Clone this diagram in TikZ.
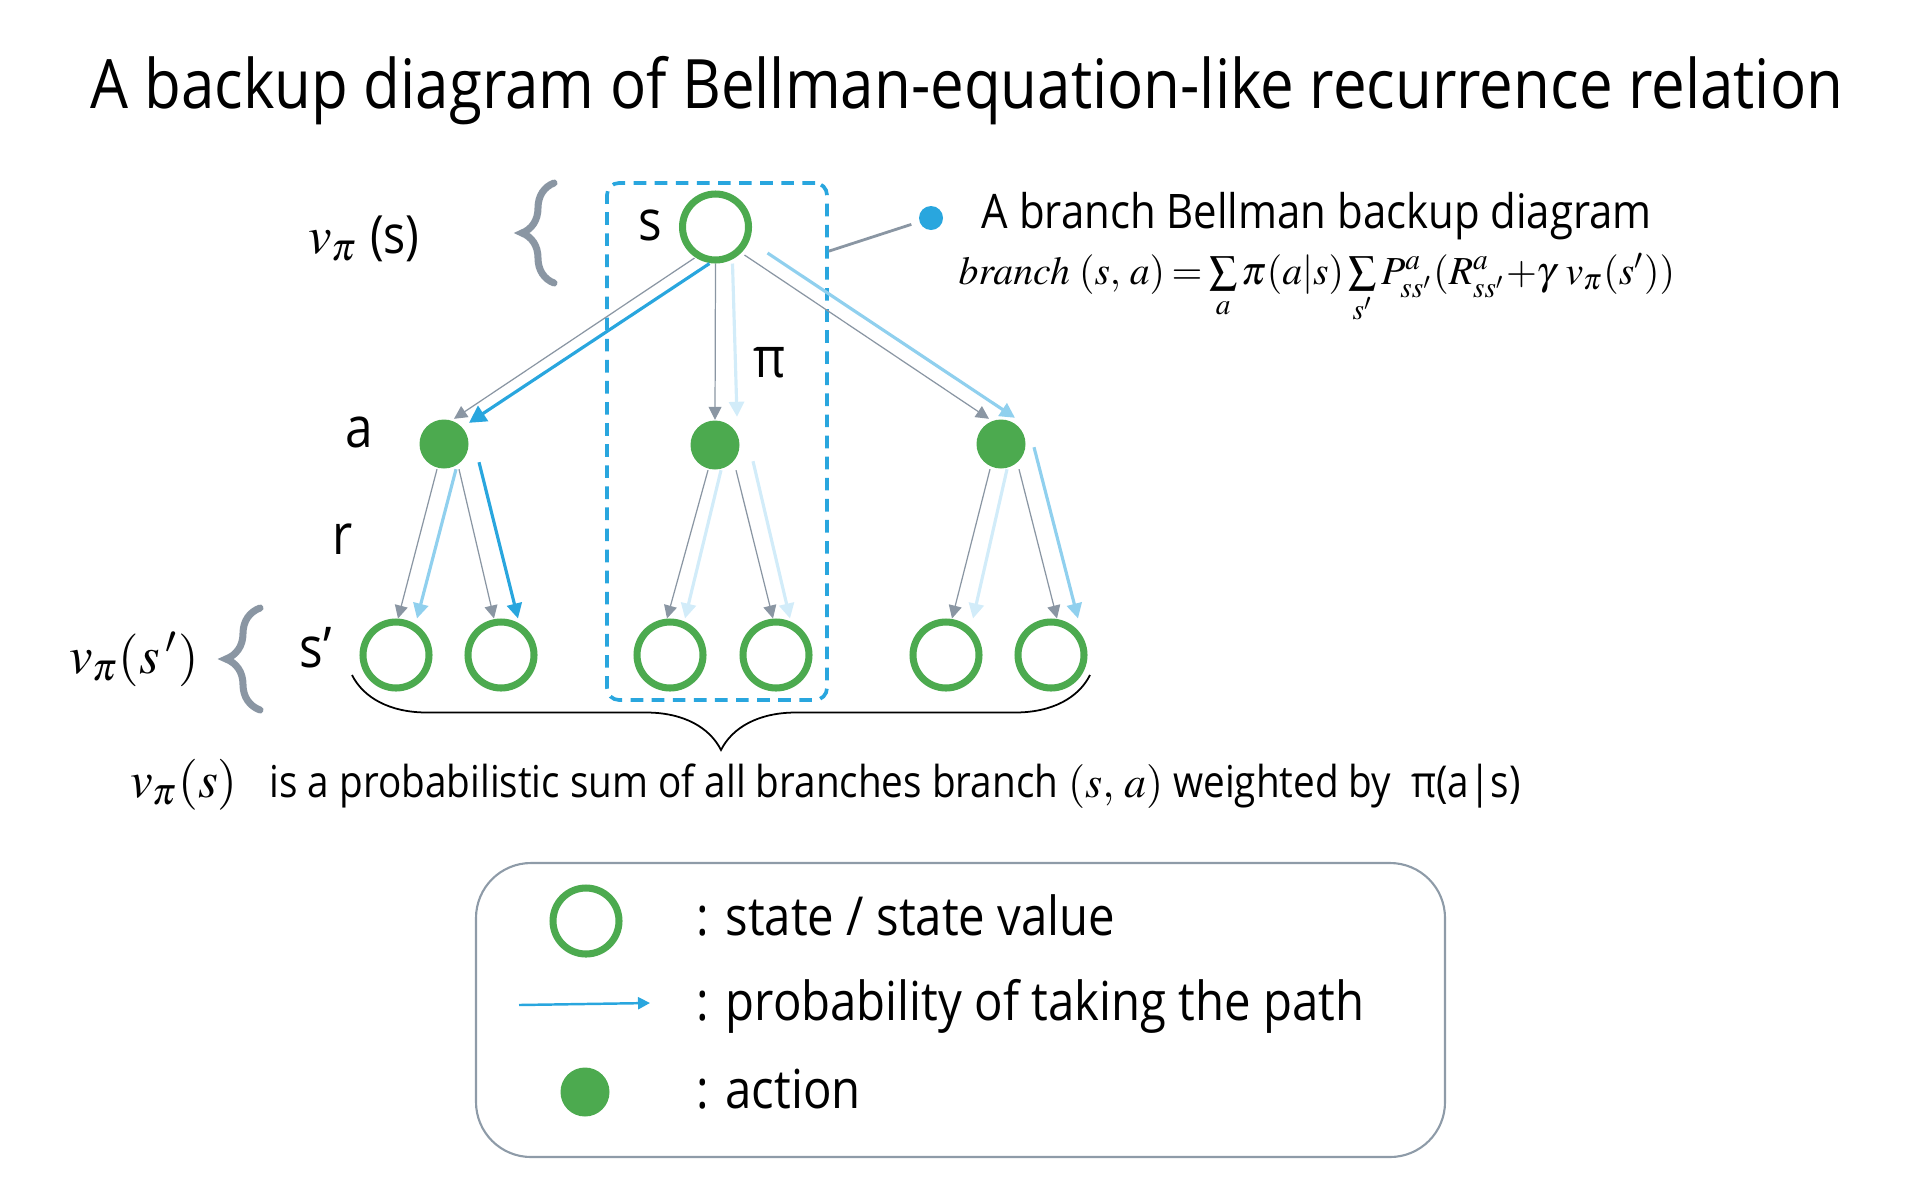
\documentclass[tikz,border=0pt]{standalone}
\usepackage{mathptmx}
\usepackage[no-math]{fontspec}
\setmainfont{Open Sans}[FakeStretch=0.88]
\usetikzlibrary{arrows.meta,decorations.pathreplacing}
\definecolor{leaf}{HTML}{4CAA4F}
\definecolor{sky}{HTML}{29A6DE}
\definecolor{skylight}{HTML}{90D0EE}
\definecolor{skypale}{HTML}{D2ECF9}
\definecolor{slate}{HTML}{8A96A3}
\definecolor{frame}{HTML}{8E9BA8}

\begin{document}
\begin{tikzpicture}[state/.style={circle,draw=leaf,line width=2pt,minimum size=6.6mm,inner sep=0pt}, act/.style={circle,fill=leaf,minimum size=4.9mm,inner sep=0pt}, lbl/.style={anchor=base,font=\fontsize{16}{19}\selectfont}, garr/.style={-{Triangle[length=1.3mm,width=1.3mm]},draw=slate,line width=0.35pt}, parr/.style={-{Triangle[length=1.5mm,width=1.5mm]},line width=0.9pt}, brc/.style={decorate,decoration={brace,amplitude=#1},draw=slate,line width=2pt,line cap=round}, branchbox/.style={draw=sky,line width=1.05pt,dash pattern=on 3.6pt off 2.4pt,rounded corners=1.2mm}]
\useasboundingbox (0,0) rectangle (19.2,-11.89);
\node[anchor=base,font=\fontsize{19.4}{23}\selectfont] (title) at (9.67,-1.08) {A backup diagram of Bellman-equation-like recurrence relation};
% tree
\node[branchbox,minimum width=2.2cm,minimum height=5.17cm] (branch) at (7.17,-4.415) {};
\node[state] (s) at (7.155,-2.27) {};
\node[act] (a1) at (4.44,-4.44) {};
\node[act] (a2) at (7.15,-4.45) {};
\node[act] (a3) at (10.01,-4.44) {};
\node[state] (c1) at (3.96,-6.55) {};
\node[state] (c2) at (5.01,-6.55) {};
\node[state] (c3) at (6.70,-6.55) {};
\node[state] (c4) at (7.76,-6.55) {};
\node[state] (c5) at (9.46,-6.55) {};
\node[state] (c6) at (10.51,-6.55) {};
\node[lbl] (slbl) at (6.50,-2.40) {s};
\node[lbl] (albl) at (3.59,-4.47) {a};
\node[lbl] (rlbl) at (3.43,-5.54) {r};
\node[lbl] (sprime) at (3.16,-6.67) {s’};
\node[lbl] (pilbl) at (7.70,-3.77) {π};
\node[lbl,font=\fontsize{15}{18}\selectfont] (vs) at (3.64,-2.53) {$v_\pi$ (s)};
\node[anchor=base,font=\fontsize{15}{18}\selectfont] (vsp) at (1.34,-6.73) {$v_\pi(s\,')$};
\draw[brc=3.2mm] (5.54,-2.83) -- (5.54,-1.83);
\draw[brc=3.4mm] (2.60,-7.10) -- (2.60,-6.08);
\draw[decorate,decoration={brace,amplitude=7.5mm},line width=0.5pt] (10.90,-6.75) -- (3.52,-6.75);
% s to actions
\draw[garr] ([xshift=-2.1mm,yshift=0.55mm]s.south) -- ([xshift=1mm]a1.north);
\draw[parr,draw=sky,-{Triangle[length=1.7mm,width=1.8mm]}] ([xshift=-0.6mm]s.south) -- ([xshift=2.5mm,yshift=-0.4mm]a1.north);
\draw[garr] (s.south) -- (a2.north);
\draw[parr,draw=skypale] ([xshift=1.7mm]s.south) -- ([xshift=2.2mm,yshift=0.3mm]a2.north);
\draw[garr] ([xshift=2.9mm,yshift=0.85mm]s.south) -- ([xshift=-1.2mm]a3.north);
\draw[parr,draw=skylight] ([xshift=5.2mm,yshift=1.05mm]s.south) -- ([xshift=1.4mm,yshift=0.1mm]a3.north);
% actions to next states
\draw[garr] ([xshift=-0.7mm]a1.south) -- ([xshift=0.2mm]c1.north);
\draw[parr,draw=skylight] ([xshift=1.2mm]a1.south) -- ([xshift=2.1mm]c1.north);
\draw[garr] ([xshift=1.5mm]a1.south) -- ([xshift=-0.7mm]c2.north);
\draw[parr,draw=sky] ([xshift=3.5mm,yshift=0.7mm]a1.south) -- ([xshift=1.7mm]c2.north);
\draw[garr] ([xshift=-0.7mm]a2.south) -- ([xshift=-0.3mm]c3.north);
\draw[parr,draw=skypale] ([xshift=0.6mm]a2.south) -- ([xshift=1.5mm]c3.north);
\draw[garr] ([xshift=2.1mm]a2.south) -- ([xshift=-0.3mm]c4.north);
\draw[parr,draw=skypale] ([xshift=3.8mm,yshift=0.9mm]a2.south) -- ([xshift=1.4mm]c4.north);
\draw[garr] ([xshift=-1.1mm]a3.south) -- ([xshift=0.6mm]c5.north);
\draw[parr,draw=skypale] ([xshift=0.6mm]a3.south) -- ([xshift=2.7mm]c5.north);
\draw[garr] ([xshift=1.8mm]a3.south) -- ([xshift=0.6mm]c6.north);
\draw[parr,draw=skylight] ([xshift=3.3mm,yshift=2.2mm]a3.south) -- ([xshift=2.7mm]c6.north);
% branch annotation
\node[circle,fill=sky,minimum size=2.4mm,inner sep=0pt] (dot) at (9.31,-2.18) {};
\draw[slate,line width=0.8pt,shorten >=0.8mm] ([yshift=-7mm]branch.north east) -- (dot);
\node[anchor=base west,font=\fontsize{13.55}{16}\selectfont,inner sep=0pt] (btitle) at (9.81,-2.28) {A branch Bellman backup diagram};
\node[anchor=base west,font=\fontsize{11.3}{14}\selectfont,inner sep=0pt] (bformula) at (9.58,-2.84) {\thickmuskip=3mu$\mathit{branch}\ (s,\,a) = \sum\limits_a\pi(a|s)\sum\limits_{s'}P^{a}_{ss'}(R^{a}_{ss'}{+}\gamma\ v_\pi(s'))$};
% summary line
\node[anchor=base,font=\fontsize{14.5}{17}\selectfont] (vsum) at (1.84,-7.97) {$v_\pi(s)$};
\node[anchor=base west,font=\fontsize{12.5}{15}\selectfont,inner sep=0pt] (sumtext) at (2.69,-7.97) {is a probabilistic sum of all branches branch \textit{$(s,\,a)$} weighted by \ π(a|s)};
% legend
\node[draw=frame,line width=0.6pt,rounded corners=5.5mm,minimum width=9.69cm,minimum height=2.94cm] (legend) at (9.605,-10.10) {};
\node[state] (lgstate) at (5.86,-9.21) {};
\node[act] (lgact) at (5.85,-10.92) {};
\coordinate (lgfrom) at (5.19,-10.05);
\coordinate (lgto) at (6.50,-10.03);
\draw[parr,draw=sky,line width=0.7pt,-{Triangle[length=1.2mm,width=1.2mm]}] (lgfrom) -- (lgto);
\node[anchor=base west,font=\fontsize{15.3}{18}\selectfont,inner sep=0pt] (lgt1) at (6.96,-9.35) {: state / state value};
\node[anchor=base west,font=\fontsize{15.3}{18}\selectfont,inner sep=0pt] (lgt2) at (6.96,-10.20) {: probability of taking the path};
\node[anchor=base west,font=\fontsize{15.3}{18}\selectfont,inner sep=0pt] (lgt3) at (6.96,-11.08) {: action};
\end{tikzpicture}
\end{document}
